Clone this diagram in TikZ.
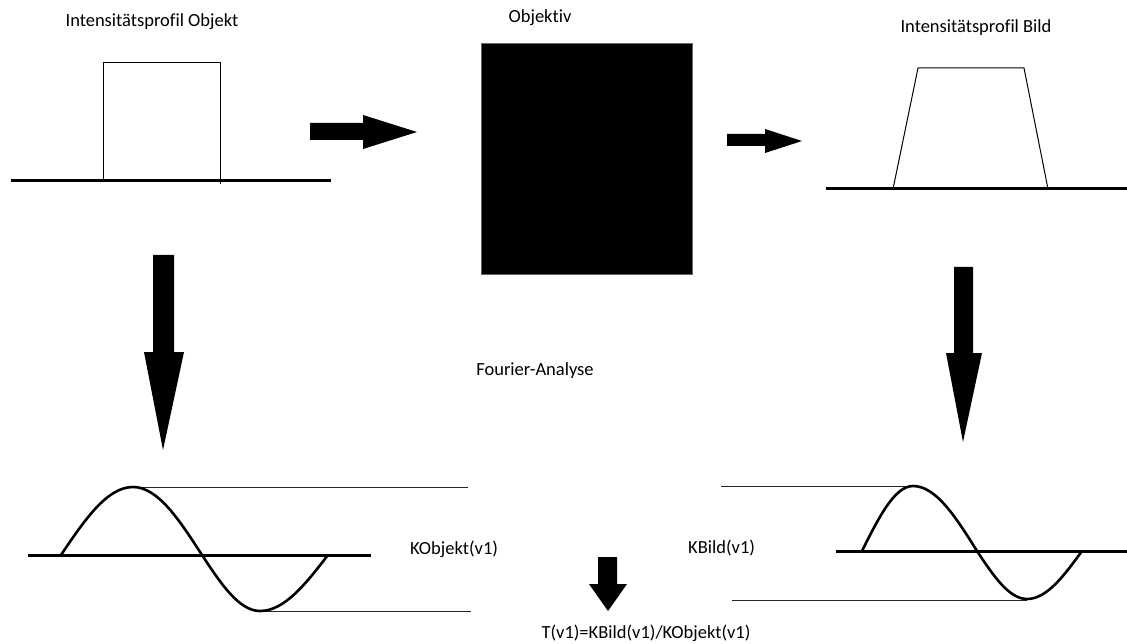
\documentclass[tikz,border=0pt]{standalone}
\usepackage{fontspec}
\setmainfont{Carlito}[Ligatures=NoCommon]
\usepackage{tikz}
\usetikzlibrary{positioning, calc}
\tikzset{
  caption/.style={inner sep=0pt,font=\fontsize{18.5}{21}\selectfont},
  axis/.style={line width=3pt,black},
  profile/.style={line width=1pt,black},
  level/.style={line width=0.9pt,black!85},
  wave/.style={line width=2.6pt,black,line join=round},
  fatarrow/.style={fill=black,draw=none},
  lens/.style={fill=black,draw=black!60,line width=0.5pt},
}

\begin{document}
\begin{tikzpicture}[x=1pt,y=-1pt]
	    \useasboundingbox (0,0) rectangle (1127,644);
	    % Objekt
	    \node[caption] (A) at (152,22) {Intensitätsprofil Objekt};
	    \draw[profile] (103,181) -- (103,63) -- (220,63) -- (220,184);
	    \draw[axis] (11,181) -- (331,181);
	    % Objektiv
	    \node[caption] (B) at (540,18) {Objektiv};
	    \filldraw[lens] (481,43) rectangle (692,274);
	    % Bild
	    \node[caption] (C) at (976,28) {Intensitätsprofil Bild};
	    \draw[profile] (893,189) -- (918,68) -- (1024,68) -- (1048,189);
	    \draw[axis] (826,189) -- (1127,189);
	    % arrows
	    \fill[fatarrow] (310,123) -- (363,123) -- (363,115) -- (417,132)
	    	-- (363,149) -- (363,140) -- (310,140) -- cycle;
	    \fill[fatarrow] (727,134) -- (765,134) -- (765,129) -- (802,141)
	    	-- (765,153) -- (765,146) -- (727,146) -- cycle;
	    \fill[fatarrow] (153,255) -- (174,255) -- (174,352) -- (184,352)
	    	-- (163,450) -- (144,352) -- (153,352) -- cycle;
	    \fill[fatarrow] (954,267) -- (973,267) -- (973,353) -- (982,353)
	    	-- (963,442) -- (946,353) -- (954,353) -- cycle;
	    \fill[fatarrow] (598,557) -- (617,557) -- (617,584) -- (627,584)
	    	-- (608,611) -- (589,584) -- (598,584) -- cycle;
	    \node[caption] (D) at (535,371) {Fourier-Analyse};
	    % Kontrast Objekt
	    \draw[level] (133,487) -- (468,487);
	    \draw[level] (260,611) -- (471,611);
	    \draw[axis] (28,555) -- (371,555);
	    \draw[wave] (61,555) sin (133,487) cos (202,555) sin (260,611) cos (328,555);
	    \node[caption,anchor=west] (E) at (410,549) {KObjekt(v1)};
	    % Kontrast Bild
	    \draw[level] (721,486) -- (913,486);
	    \draw[level] (732,600) -- (1027,600);
	    \draw[axis] (836,551) -- (1127,551);
	    \draw[wave] (862,551) sin (913,486) cos (977,551) sin (1027,599) cos (1082,551);
	    \node[caption,anchor=west] (F) at (688,548) {KBild(v1)};
	    \node[caption] (G) at (646,633) {T(v1)=KBild(v1)/KObjekt(v1)};
	\end{tikzpicture}
\end{document}
